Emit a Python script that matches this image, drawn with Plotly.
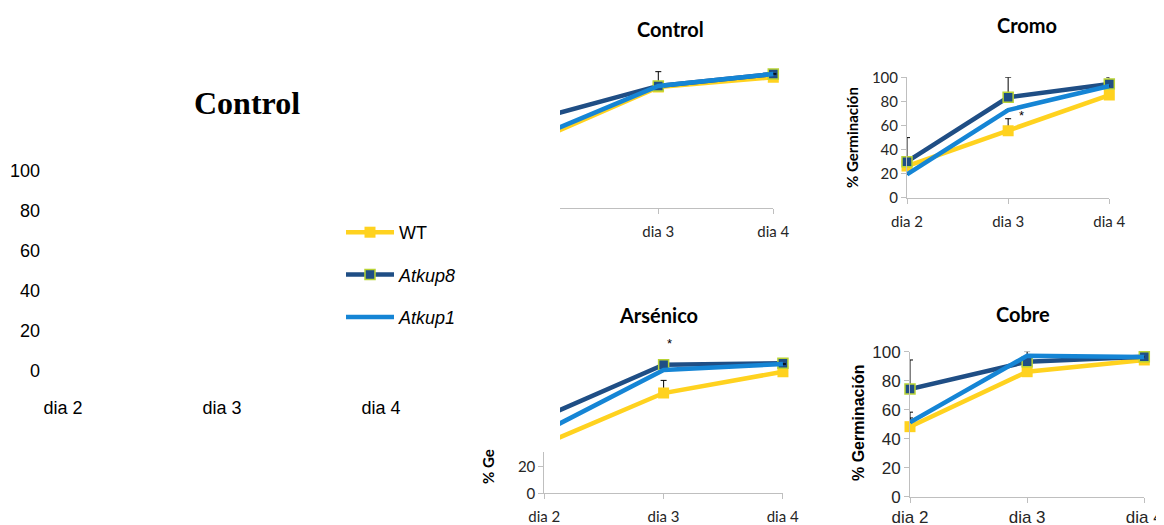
import plotly.graph_objects as go

W, H = 1164, 525
OX, OY = 8, 8  # page body margin in the browser

days = ["dia 2", "dia 3", "dia 4"]
day_pos = [0, 1, 2]
names = ["WT", "<i>Atkup8</i>", "<i>Atkup1</i>"]

# ---- data (% germinación) ----
control_wt = [49.8, 85.0, 91.9]
control_k8 = [63.9, 85.8, 94.2]
control_k1 = [51.9, 85.8, 94.2]
control_err_wt = [0, 0, 0]
control_err_k8 = [0, 10, 0]
control_err_k1 = [0, 0, 0]

cromo_wt = [26.3, 55.6, 85.3]
cromo_k8 = [29.9, 83.4, 94.4]
cromo_k1 = [19.4, 72.8, 92.8]
cromo_err_wt = [0, 10, 0]
cromo_err_k8 = [20, 16.6, 5.6]
cromo_err_k1 = [0, 0, 0]

arsenico_wt = [37.0, 75.2, 91.2]
arsenico_k8 = [57.4, 96.4, 97.5]
arsenico_k1 = [46.4, 92.5, 97.0]
arsenico_err_wt = [0, 9.5, 0]
arsenico_err_k8 = [0, 0, 0]
arsenico_err_k1 = [0, 0, 0]

cobre_wt = [48.3, 86.2, 94.3]
cobre_k8 = [74.3, 93.1, 96.6]
cobre_k1 = [51.3, 97.2, 96.4]
cobre_err_wt = [10, 0, 0]
cobre_err_k8 = [20, 7, 0]
cobre_err_k1 = [3, 0, 0]

# significance marks (day position, % value)
cromo_star_x = [1.0, 1.13]
cromo_star_y = [106, 68]
arsenico_star_x = [1.05]
arsenico_star_y = [112.7]
cobre_star_x = [0.0]
cobre_star_y = [106]

# ---- styles ----
C_WT = "#FFD21F"
C_K8 = "#1F4E85"
C_K1 = "#1585D5"
EDGE_K8 = "#B9D334"
AXC = "#BFBFBF"
TXT = "#262626"
SANS = "Lato, 'Open Sans', sans-serif"
ARIAL = "'Liberation Sans', Arial, sans-serif"


def px_x(a):
    return (a - OX) / W


def px_y(b):
    return 1 - (b - OY) / H


def xd(a, b):
    return [px_x(a), px_x(b)]


def yd(top, bottom):
    return [px_y(bottom), px_y(top)]


fig = go.Figure()


def add_panel(xa, ya, wt, k8, k1, ewt, ek8, ek1, clip, legend=False):
    specs = [
        (wt, ewt, C_WT, dict(symbol="square", size=11, color=C_WT, line=dict(width=0)), "lines+markers", names[0]),
        (k8, ek8, C_K8, dict(symbol="square", size=10, color=C_K8, line=dict(width=1.5, color=EDGE_K8)), "lines+markers", names[1]),
        (k1, ek1, C_K1, dict(size=4, color=C_K1), "lines", names[2]),
    ]
    for i, (vals, err, col, mk, mode, nm) in enumerate(specs):
        fig.add_trace(go.Scatter(
            x=day_pos, y=vals, mode=mode, name=nm,
            line=dict(color=col, width=4.5), marker=mk,
            error_y=dict(type="data", array=err, arrayminus=[0] * len(err), symmetric=False,
                         color="black", thickness=1, width=3),
            xaxis=xa, yaxis=ya, cliponaxis=clip,
            showlegend=legend, legendgroup=f"g{i}",
        ))


def add_empty(xa, ya):
    # registers an axes-only subplot (no marks)
    fig.add_trace(go.Scatter(x=[], y=[], mode="lines", xaxis=xa, yaxis=ya,
                             showlegend=False, hoverinfo="skip"))


add_empty("x", "y")
add_empty("x3", "y3")
add_empty("x5", "y5")

# Control (partly hidden)
add_panel("x2", "y2", control_wt, control_k8, control_k1, control_err_wt, control_err_k8, control_err_k1, True)
# Cromo
add_panel("x6", "y6", cromo_wt, cromo_k8, cromo_k1, cromo_err_wt, cromo_err_k8, cromo_err_k1, False, legend=True)
# Arsenico (partly hidden)
add_panel("x4", "y4", arsenico_wt, arsenico_k8, arsenico_k1, arsenico_err_wt, arsenico_err_k8, arsenico_err_k1, True)
# Cobre
add_panel("x7", "y7", cobre_wt, cobre_k8, cobre_k1, cobre_err_wt, cobre_err_k8, cobre_err_k1, False)

hidden = dict(visible=False, fixedrange=True, automargin=False)


def xaxis_vis(dom, rng, anchor, size=15, fam=SANS, standoff=5):
    return dict(domain=dom, range=rng, anchor=anchor, showline=True, linecolor=AXC, linewidth=1,
                ticks="outside", ticklen=5, tickcolor=AXC, tickvals=day_pos, ticktext=days,
                showgrid=False, zeroline=False, tickfont=dict(family=fam, size=size, color=TXT),
                ticklabelstandoff=standoff, automargin=False, visible=True)


def yaxis_vis(dom, rng, anchor, tickvals, size=15, fam=SANS):
    return dict(domain=dom, range=rng, anchor=anchor, showline=True, linecolor=AXC, linewidth=1,
                ticks="outside", ticklen=5, tickcolor=AXC, tickvals=tickvals,
                showgrid=False, zeroline=False, tickfont=dict(family=fam, size=size, color=TXT),
                automargin=False, visible=True)


pct = [0, 20, 40, 60, 80, 100]

fig.update_layout(
    template="none",
    width=W, height=H, margin=dict(l=0, r=0, t=0, b=0, pad=0, autoexpand=False),
    paper_bgcolor="white", plot_bgcolor="rgba(0,0,0,0)",
    # left big panel (axes only)
    xaxis=dict(domain=xd(47.1, 396.9), range=[-0.1, 2.1], anchor="y", showline=False, ticks="",
               tickvals=day_pos, ticktext=days, showgrid=False, zeroline=False,
               tickfont=dict(family=ARIAL, size=18, color="black"), ticklabelstandoff=5,
               automargin=False, visible=True),
    yaxis=dict(domain=yd(160, 390), range=[-9.49, 105.3], anchor="x", showline=False, ticks="",
               tickvals=pct, showgrid=False, zeroline=False,
               tickfont=dict(family=ARIAL, size=18, color="black"), ticklabelstandoff=6,
               automargin=False, visible=True),
    # Control: data area
    xaxis2=dict(domain=xd(560, 780.2), range=[0.1452, 2.06], anchor="y2", **hidden),
    yaxis2=dict(domain=yd(40, 208.3), range=[0, 118], anchor="x2", **hidden),
    # Control: visible x axis
    xaxis3=xaxis_vis(xd(560, 773.3), [0.1452, 2], "y3"),
    yaxis3=dict(domain=yd(207.3, 208.3), range=[0, 1], anchor="x3", **hidden),
    # Arsenico: data area
    xaxis4=dict(domain=xd(560, 790.1), range=[0.1316, 2.06], anchor="y4", **hidden),
    yaxis4=dict(domain=yd(320, 493.3), range=[0, 130], anchor="x4", **hidden),
    # Arsenico: visible axes piece
    xaxis5=xaxis_vis(xd(544.3, 782.7), [0, 2], "y5"),
    yaxis5=yaxis_vis(yd(452, 493.3), [0, 31], "x5", [0, 20]),
    # Cromo
    xaxis6=xaxis_vis(xd(907, 1109.3), [0, 2], "y6"),
    yaxis6=yaxis_vis(yd(77.3, 197.7), [0, 100], "x6", pct),
    # Cobre
    xaxis7=xaxis_vis(xd(910, 1144.3), [0, 2], "y7", size=17, fam=ARIAL, standoff=0),
    yaxis7=yaxis_vis(yd(351.7, 496.7), [0, 100], "x7", pct, size=17, fam=ARIAL),
    legend=dict(x=px_x(341), y=px_y(214), xanchor="left", yanchor="top",
                font=dict(family=ARIAL, size=18, color="black"), bgcolor="rgba(0,0,0,0)",
                tracegroupgap=16, traceorder="grouped", itemwidth=48),
    showlegend=True,
)

anns = []


def title(text, px, py, size=20, fam=SANS):
    anns.append(dict(text=f"<b>{text}</b>", x=px_x(px), y=px_y(py), xref="paper", yref="paper",
                     showarrow=False, xanchor="center", yanchor="middle",
                     font=dict(family=fam, size=size, color="black")))


def ytitle(text, px, py, size=15, fam=SANS):
    anns.append(dict(text=f"<b>{text}</b>", x=px_x(px), y=px_y(py), xref="paper", yref="paper",
                     showarrow=False, textangle=-90, xanchor="center", yanchor="middle",
                     font=dict(family=fam, size=size, color="black")))


title("Control", 247, 103, size=32, fam="'Liberation Serif', 'Times New Roman', serif")
title("Control", 670, 29)
title("Cromo", 1027, 25)
title("Arsénico", 658, 315)
title("Cobre", 1023, 314)
ytitle("% Germinación", 852, 138)
ytitle("% Germinación", 858, 423, size=16, fam=ARIAL)
ytitle("% Ge", 488, 467)


def stars(xs, ys, xa, ya):
    for sx, sy in zip(xs, ys):
        anns.append(dict(text="*", x=sx, y=sy, xref=xa, yref=ya, showarrow=False,
                         font=dict(family=ARIAL, size=13, color="black")))


stars(cromo_star_x, cromo_star_y, "x6", "y6")
stars(arsenico_star_x, arsenico_star_y, "x4", "y4")
stars(cobre_star_x, cobre_star_y, "x7", "y7")

fig.update_layout(annotations=anns)

fig.write_html("out.html")
